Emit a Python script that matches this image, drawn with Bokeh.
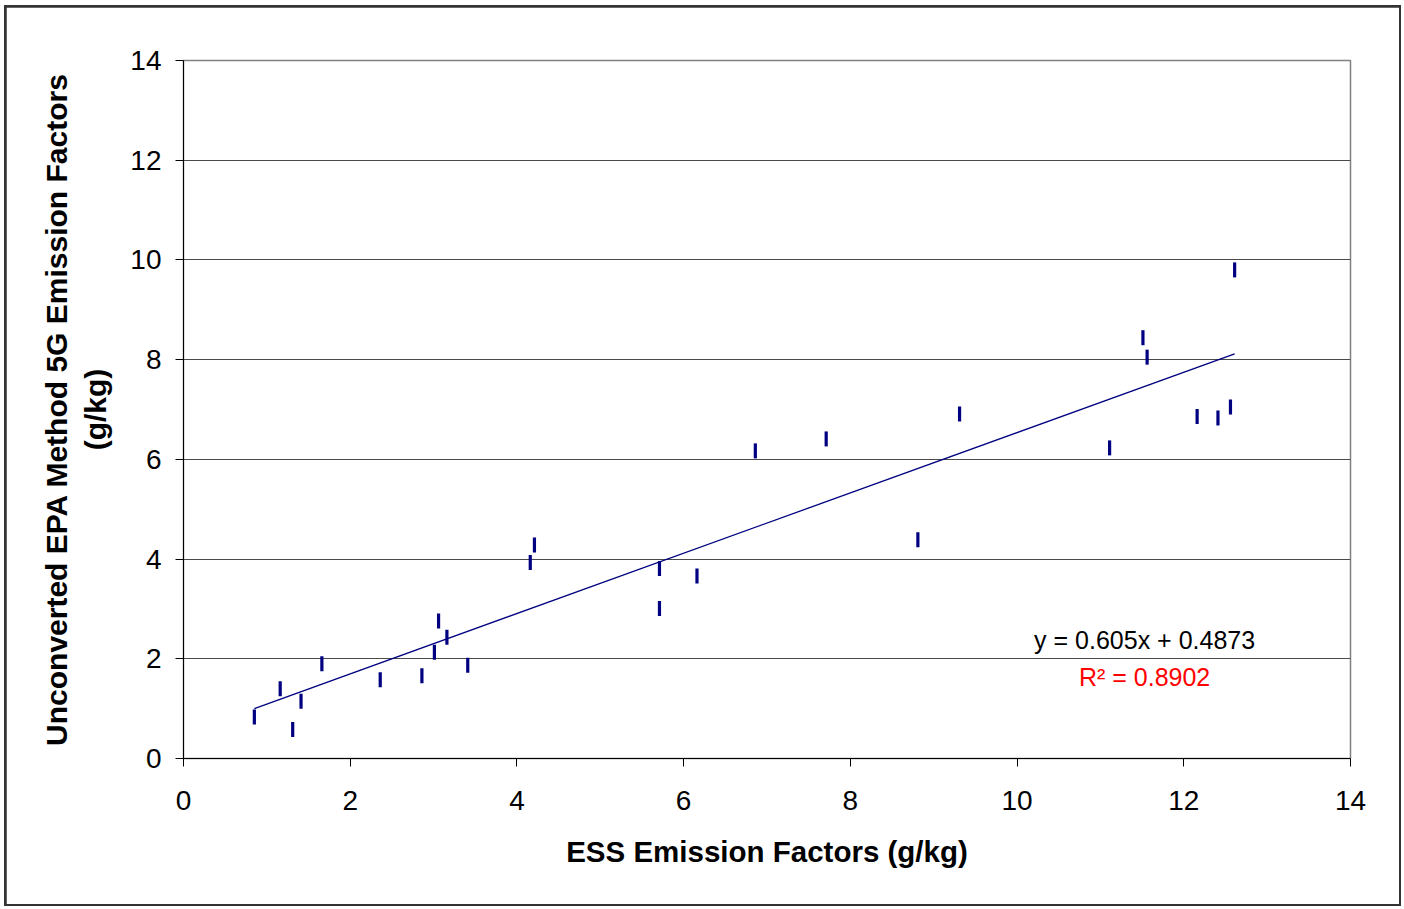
import numpy as np
from bokeh.plotting import figure
from bokeh.layouts import column
from bokeh.models import FixedTicker, Label, Range1d
from bokeh.embed import file_html
from bokeh.resources import INLINE

# ESS emission factors (g/kg) vs unconverted EPA Method 5G emission factors (g/kg)
ess = [0.85, 1.16, 1.31, 1.41, 1.66, 2.36, 2.86, 3.01, 3.06, 3.16, 3.41,
       4.16, 4.21, 5.71, 5.71, 6.16, 6.86, 7.71, 8.81, 9.31, 11.11,
       11.51, 11.56, 12.16, 12.41, 12.56, 12.61]
epa = [0.83, 1.40, 0.58, 1.15, 1.90, 1.58, 1.66, 2.13, 2.76, 2.43, 1.87,
       3.93, 4.28, 3.81, 3.01, 3.66, 6.17, 6.41, 4.39, 6.91, 6.23,
       8.44, 8.05, 6.86, 6.83, 7.05, 9.80]
slope = 0.605
intercept = 0.4873
r2 = 0.8902
ticks = [0, 2, 4, 6, 8, 10, 12, 14]

FONT = "Liberation Sans"

p = figure(width=1393, height=897, output_backend="svg", toolbar_location=None,
           x_range=Range1d(0, 14), y_range=Range1d(0, 14),
           min_border_left=177, min_border_right=49,
           min_border_top=53, min_border_bottom=146,
           background_fill_color="white", border_fill_color="white")
p.margin = (2, 2, 2, 2)

p.outline_line_color = "#808080"
p.outline_line_width = 1.5

p.xgrid.grid_line_color = None
p.ygrid.grid_line_color = "#4a4a4a"
p.ygrid.grid_line_width = 1
p.ygrid.ticker = FixedTicker(ticks=ticks)

for ax in (p.xaxis[0], p.yaxis[0]):
    ax.ticker = FixedTicker(ticks=ticks)
    ax.axis_line_color = "black"
    ax.axis_line_width = 1
    ax.major_tick_line_color = "black"
    ax.major_tick_in = 0
    ax.major_tick_out = 8
    ax.minor_tick_line_color = None
    ax.major_label_text_font = FONT
    ax.major_label_text_font_size = "28px"
    ax.major_label_text_color = "black"
    ax.axis_label_text_font = FONT
    ax.axis_label_text_font_style = "bold"
    ax.axis_label_text_color = "black"

p.xaxis.axis_label = "ESS Emission Factors (g/kg)"
p.xaxis.axis_label_text_font_size = "29.5px"
p.xaxis.major_label_standoff = 24
p.xaxis.axis_label_standoff = 22
p.yaxis.axis_label = "Unconverted EPA Method 5G Emission Factors\n(g/kg)"
p.yaxis.axis_label_text_font_size = "30px"
p.yaxis.major_label_standoff = 14
p.yaxis.axis_label_standoff = 15

# trend line
xs = np.array([min(ess), max(ess)])
p.line(xs, slope * xs + intercept, line_color="#000080", line_width=1.3)

# data markers (vertical dashes)
p.scatter(ess, epa, marker="dash", angle=np.pi / 2, size=15,
          line_color="#000080", line_width=3.2)

eq = Label(x=11.53, y=2.37, text=f"y = {slope}x + {intercept}",
           text_font=FONT, text_font_size="25px", text_color="black",
           text_align="center", text_baseline="alphabetic")
rl = Label(x=11.53, y=1.64, text=f"R\u00b2 = {r2}",
           text_font=FONT, text_font_size="25px", text_color="red",
           text_align="center", text_baseline="alphabetic")
p.add_layout(eq)
p.add_layout(rl)

# outer chart border: dark background of the wrapping layout shows around the figure
root = column(p, background="#333333", margin=(5, 0, 0, 4))

open("out.html", "w").write(file_html(root, INLINE))
